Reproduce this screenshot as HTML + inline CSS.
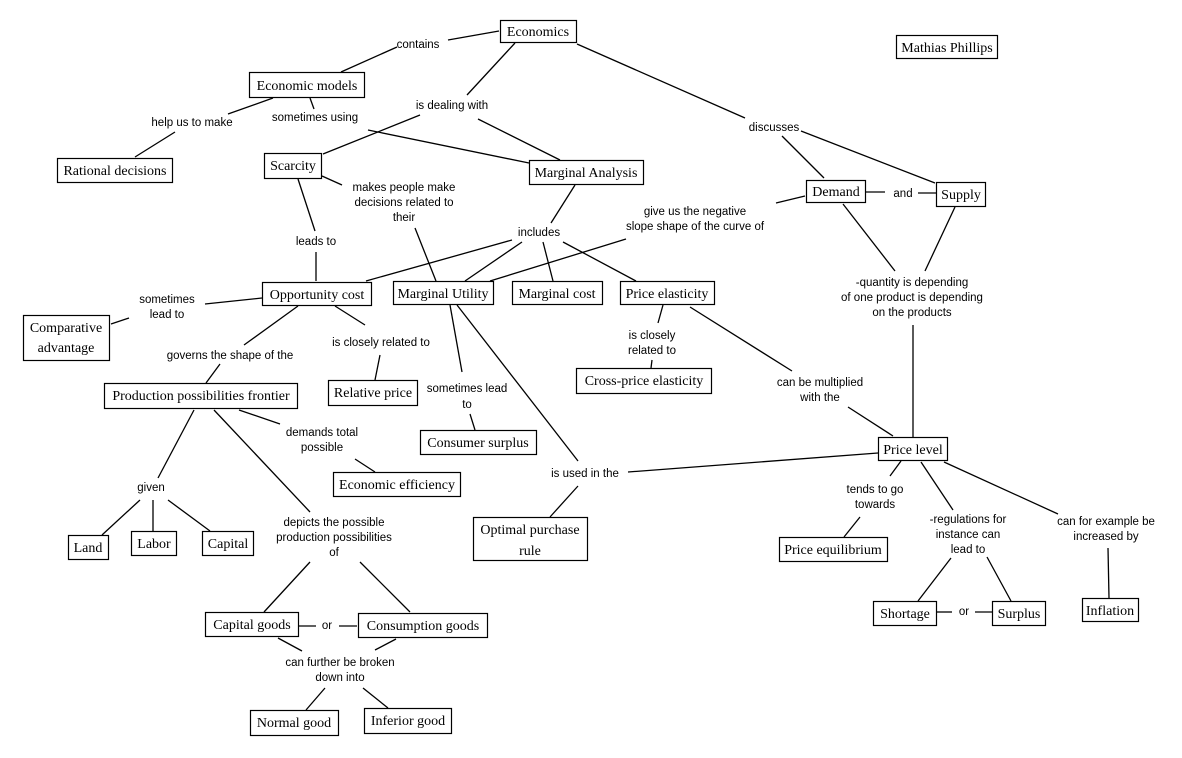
<!DOCTYPE html>
<html><head><meta charset="utf-8"><style>
html,body{margin:0;padding:0;background:#fff;}
svg{display:block}
.b{fill:#fff;stroke:#000;stroke-width:1.2}
.t{font-family:"Liberation Serif",serif;font-size:14px;fill:#000;text-anchor:middle}
.l{font-family:"Liberation Sans",sans-serif;font-size:11.5px;fill:#000;text-anchor:middle}
line{stroke:#000;stroke-width:1.3}
</style></head><body>
<svg width="1182" height="758" viewBox="0 0 1182 758" xmlns="http://www.w3.org/2000/svg">
<g>
<line x1="499" y1="31" x2="448" y2="40"/>
<line x1="397" y1="47" x2="341" y2="72"/>
<line x1="515" y1="43" x2="467" y2="95"/>
<line x1="577" y1="44" x2="745" y2="118"/>
<line x1="273" y1="98" x2="228" y2="114"/>
<line x1="175" y1="132" x2="135" y2="157"/>
<line x1="310" y1="98" x2="314" y2="109"/>
<line x1="368" y1="130" x2="529" y2="163"/>
<line x1="420" y1="115" x2="323" y2="154"/>
<line x1="478" y1="119" x2="560" y2="160"/>
<line x1="322" y1="176" x2="342" y2="185"/>
<line x1="298" y1="179" x2="315" y2="231"/>
<line x1="316" y1="252" x2="316" y2="281"/>
<line x1="415" y1="228" x2="436" y2="281"/>
<line x1="575" y1="185" x2="551" y2="223"/>
<line x1="512" y1="240" x2="366" y2="281"/>
<line x1="522" y1="242" x2="465" y2="281"/>
<line x1="543" y1="242" x2="553" y2="281"/>
<line x1="563" y1="242" x2="636" y2="281"/>
<line x1="805" y1="196" x2="776" y2="203"/>
<line x1="626" y1="239" x2="490" y2="281"/>
<line x1="866" y1="192" x2="885" y2="192"/>
<line x1="918" y1="193" x2="936" y2="193"/>
<line x1="782" y1="136" x2="824" y2="178"/>
<line x1="801" y1="131" x2="935" y2="183"/>
<line x1="843" y1="204" x2="895" y2="271"/>
<line x1="955" y1="207" x2="925" y2="271"/>
<line x1="913" y1="325" x2="913" y2="437"/>
<line x1="262" y1="298" x2="205" y2="304"/>
<line x1="129" y1="318" x2="111" y2="324"/>
<line x1="298" y1="306" x2="244" y2="345"/>
<line x1="335" y1="306" x2="365" y2="325"/>
<line x1="380" y1="355" x2="375" y2="380"/>
<line x1="220" y1="364" x2="206" y2="383"/>
<line x1="450" y1="305" x2="462" y2="372"/>
<line x1="470" y1="414" x2="475" y2="430"/>
<line x1="457" y1="305" x2="578" y2="461"/>
<line x1="578" y1="486" x2="550" y2="517"/>
<line x1="628" y1="472" x2="878" y2="453"/>
<line x1="663" y1="305" x2="658" y2="323"/>
<line x1="652" y1="360" x2="651" y2="368"/>
<line x1="690" y1="307" x2="792" y2="371"/>
<line x1="848" y1="407" x2="893" y2="436"/>
<line x1="194" y1="410" x2="158" y2="478"/>
<line x1="239" y1="410" x2="280" y2="424"/>
<line x1="355" y1="459" x2="375" y2="472"/>
<line x1="214" y1="410" x2="310" y2="512"/>
<line x1="140" y1="500" x2="102" y2="535"/>
<line x1="153" y1="500" x2="153" y2="531"/>
<line x1="168" y1="500" x2="210" y2="531"/>
<line x1="310" y1="562" x2="264" y2="612"/>
<line x1="360" y1="562" x2="410" y2="612"/>
<line x1="299" y1="626" x2="316" y2="626"/>
<line x1="339" y1="626" x2="357" y2="626"/>
<line x1="278" y1="638" x2="302" y2="651"/>
<line x1="396" y1="639" x2="375" y2="650"/>
<line x1="325" y1="688" x2="306" y2="710"/>
<line x1="363" y1="688" x2="388" y2="708"/>
<line x1="901" y1="461" x2="890" y2="476"/>
<line x1="860" y1="517" x2="844" y2="537"/>
<line x1="921" y1="462" x2="953" y2="510"/>
<line x1="944" y1="462" x2="1058" y2="514"/>
<line x1="951" y1="558" x2="918" y2="601"/>
<line x1="987" y1="557" x2="1011" y2="601"/>
<line x1="936" y1="612" x2="952" y2="612"/>
<line x1="975" y1="612" x2="992" y2="612"/>
<line x1="1108" y1="548" x2="1109" y2="598"/>
</g>
<!-- boxes -->
<g>
<rect class="b" x="500.5" y="20.5" width="76" height="22"/><text class="t" x="538" y="36">Economics</text>
<rect class="b" x="896.5" y="35.5" width="101" height="23"/><text class="t" x="947" y="52">Mathias Phillips</text>
<rect class="b" x="249.5" y="72.5" width="115" height="25"/><text class="t" x="307" y="90">Economic models</text>
<rect class="b" x="57.5" y="158.5" width="115" height="24"/><text class="t" x="115" y="175">Rational decisions</text>
<rect class="b" x="264.5" y="153.5" width="57" height="25"/><text class="t" x="293" y="170">Scarcity</text>
<rect class="b" x="529.5" y="160.5" width="114" height="24"/><text class="t" x="586" y="177">Marginal Analysis</text>
<rect class="b" x="806.5" y="180.5" width="59" height="22"/><text class="t" x="836" y="196">Demand</text>
<rect class="b" x="936.5" y="182.5" width="49" height="24"/><text class="t" x="961" y="199">Supply</text>
<rect class="b" x="262.5" y="282.5" width="109" height="23"/><text class="t" x="317" y="299">Opportunity cost</text>
<rect class="b" x="393.5" y="281.5" width="100" height="23"/><text class="t" x="443" y="298">Marginal Utility</text>
<rect class="b" x="512.5" y="281.5" width="90" height="23"/><text class="t" x="557" y="298">Marginal cost</text>
<rect class="b" x="620.5" y="281.5" width="94" height="23"/><text class="t" x="667" y="298">Price elasticity</text>
<rect class="b" x="23.5" y="315.5" width="86" height="45"/><text class="t" x="66" y="332">Comparative</text><text class="t" x="66" y="352">advantage</text>
<rect class="b" x="104.5" y="383.5" width="193" height="25"/><text class="t" x="201" y="400">Production possibilities frontier</text>
<rect class="b" x="328.5" y="380.5" width="89" height="25"/><text class="t" x="373" y="397">Relative price</text>
<rect class="b" x="576.5" y="368.5" width="135" height="25"/><text class="t" x="644" y="385">Cross-price elasticity</text>
<rect class="b" x="420.5" y="430.5" width="116" height="24"/><text class="t" x="478" y="447">Consumer surplus</text>
<rect class="b" x="333.5" y="472.5" width="127" height="24"/><text class="t" x="397" y="489">Economic efficiency</text>
<rect class="b" x="878.5" y="437.5" width="69" height="23"/><text class="t" x="913" y="454">Price level</text>
<rect class="b" x="473.5" y="517.5" width="114" height="43"/><text class="t" x="530" y="534">Optimal purchase</text><text class="t" x="530" y="555">rule</text>
<rect class="b" x="68.5" y="535.5" width="40" height="24"/><text class="t" x="88" y="552">Land</text>
<rect class="b" x="131.5" y="531.5" width="45" height="24"/><text class="t" x="154" y="548">Labor</text>
<rect class="b" x="202.5" y="531.5" width="51" height="24"/><text class="t" x="228" y="548">Capital</text>
<rect class="b" x="779.5" y="537.5" width="108" height="24"/><text class="t" x="833" y="554">Price equilibrium</text>
<rect class="b" x="205.5" y="612.5" width="93" height="24"/><text class="t" x="252" y="629">Capital goods</text>
<rect class="b" x="358.5" y="613.5" width="129" height="24"/><text class="t" x="423" y="630">Consumption goods</text>
<rect class="b" x="873.5" y="601.5" width="63" height="24"/><text class="t" x="905" y="618">Shortage</text>
<rect class="b" x="992.5" y="601.5" width="53" height="24"/><text class="t" x="1019" y="618">Surplus</text>
<rect class="b" x="1082.5" y="598.5" width="56" height="23"/><text class="t" x="1110" y="615">Inflation</text>
<rect class="b" x="250.5" y="710.5" width="88" height="25"/><text class="t" x="294" y="727">Normal good</text>
<rect class="b" x="364.5" y="708.5" width="87" height="25"/><text class="t" x="408" y="725">Inferior good</text>
</g>
<!-- labels -->
<g>
<text class="l" x="418" y="48">contains</text>
<text class="l" x="452" y="109">is dealing with</text>
<text class="l" x="192" y="126">help us to make</text>
<text class="l" x="315" y="121">sometimes using</text>
<text class="l" x="774" y="131">discusses</text>
<text class="l" x="404" y="191">makes people make</text>
<text class="l" x="404" y="206">decisions related to</text>
<text class="l" x="404" y="221">their</text>
<text class="l" x="316" y="245">leads to</text>
<text class="l" x="539" y="236">includes</text>
<text class="l" x="695" y="215">give us the negative</text>
<text class="l" x="695" y="230">slope shape of the curve of</text>
<text class="l" x="903" y="197">and</text>
<text class="l" x="912" y="286">-quantity is depending</text>
<text class="l" x="912" y="301">of one product is depending</text>
<text class="l" x="912" y="316">on the products</text>
<text class="l" x="167" y="303">sometimes</text>
<text class="l" x="167" y="318">lead to</text>
<text class="l" x="230" y="359">governs the shape of the</text>
<text class="l" x="381" y="346">is closely related to</text>
<text class="l" x="467" y="392">sometimes lead</text>
<text class="l" x="467" y="408">to</text>
<text class="l" x="652" y="339">is closely</text>
<text class="l" x="652" y="354">related to</text>
<text class="l" x="820" y="386">can be multiplied</text>
<text class="l" x="820" y="401">with the</text>
<text class="l" x="322" y="436">demands total</text>
<text class="l" x="322" y="451">possible</text>
<text class="l" x="151" y="491">given</text>
<text class="l" x="585" y="477">is used in the</text>
<text class="l" x="334" y="526">depicts the possible</text>
<text class="l" x="334" y="541">production possibilities</text>
<text class="l" x="334" y="556">of</text>
<text class="l" x="875" y="493">tends to go</text>
<text class="l" x="875" y="508">towards</text>
<text class="l" x="968" y="523">-regulations for</text>
<text class="l" x="968" y="538">instance can</text>
<text class="l" x="968" y="553">lead to</text>
<text class="l" x="1106" y="525">can for example be</text>
<text class="l" x="1106" y="540">increased by</text>
<text class="l" x="327" y="629">or</text>
<text class="l" x="964" y="615">or</text>
<text class="l" x="340" y="666">can further be broken</text>
<text class="l" x="340" y="681">down into</text>
</g>
</svg>
</body></html>
